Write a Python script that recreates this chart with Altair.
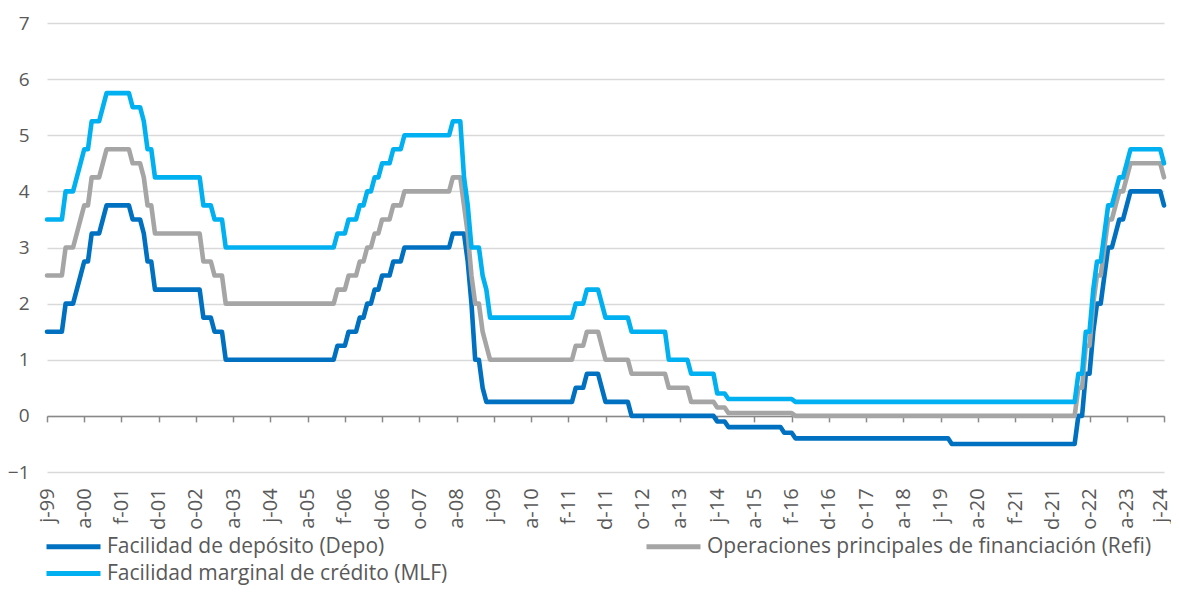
import altair as alt
import numpy as np
import pandas as pd

# Fechas de las decisiones de tipos del BCE (valores a fin de mes)
FECHAS_CAMBIO = [
    "1999-04-09", "1999-11-05", "2000-02-04", "2000-03-17", "2000-04-28", "2000-06-09",
    "2000-09-01", "2000-10-06", "2001-05-11", "2001-08-31", "2001-09-18", "2001-11-09",
    "2002-12-06", "2003-03-07", "2003-06-06", "2005-12-06", "2006-03-08", "2006-06-15",
    "2006-08-09", "2006-10-11", "2006-12-13", "2007-03-14", "2007-06-13", "2008-07-09",
    "2008-10-15", "2008-11-12", "2008-12-10", "2009-01-21", "2009-03-11", "2009-04-08",
    "2009-05-13", "2011-04-13", "2011-07-13", "2011-11-09", "2011-12-14", "2012-07-11",
    "2013-05-08", "2013-11-13", "2014-06-11", "2014-09-10", "2015-12-09", "2016-03-16",
    "2019-09-18", "2022-07-27", "2022-09-14", "2022-11-02", "2022-12-21", "2023-02-08",
    "2023-03-22", "2023-05-10", "2023-06-21", "2023-08-02", "2023-09-20", "2024-06-12",
]
DEPO = [
    1.50, 2.00, 2.25, 2.50, 2.75, 3.25, 3.50, 3.75, 3.50, 3.25, 2.75, 2.25,
    1.75, 1.50, 1.00, 1.25, 1.50, 1.75, 2.00, 2.25, 2.50, 2.75, 3.00, 3.25,
    3.25, 2.75, 2.00, 1.00, 0.50, 0.25, 0.25, 0.50, 0.75, 0.50, 0.25, 0.00,
    0.00, 0.00, -0.10, -0.20, -0.30, -0.40, -0.50, 0.00, 0.75, 1.50, 2.00, 2.50,
    3.00, 3.25, 3.50, 3.75, 4.00, 3.75,
]
REFI = [
    2.50, 3.00, 3.25, 3.50, 3.75, 4.25, 4.50, 4.75, 4.50, 4.25, 3.75, 3.25,
    2.75, 2.50, 2.00, 2.25, 2.50, 2.75, 3.00, 3.25, 3.50, 3.75, 4.00, 4.25,
    3.75, 3.25, 2.50, 2.00, 1.50, 1.25, 1.00, 1.25, 1.50, 1.25, 1.00, 0.75,
    0.50, 0.25, 0.15, 0.05, 0.05, 0.00, 0.00, 0.50, 1.25, 2.00, 2.50, 3.00,
    3.50, 3.75, 4.00, 4.25, 4.50, 4.25,
]
MLF = [
    3.50, 4.00, 4.25, 4.50, 4.75, 5.25, 5.50, 5.75, 5.50, 5.25, 4.75, 4.25,
    3.75, 3.50, 3.00, 3.25, 3.50, 3.75, 4.00, 4.25, 4.50, 4.75, 5.00, 5.25,
    4.25, 3.75, 3.00, 3.00, 2.50, 2.25, 1.75, 2.00, 2.25, 2.00, 1.75, 1.50,
    1.00, 0.75, 0.40, 0.30, 0.30, 0.25, 0.25, 0.75, 1.50, 2.25, 2.75, 3.25,
    3.75, 4.00, 4.25, 4.50, 4.75, 4.50,
]
TICK_LABELS = [
    "j-99", "a-00", "f-01", "d-01", "o-02", "a-03", "j-04", "a-05", "f-06", "d-06",
    "o-07", "a-08", "j-09", "a-10", "f-11", "d-11", "o-12", "a-13", "j-14", "a-15",
    "f-16", "d-16", "o-17", "a-18", "j-19", "a-20", "f-21", "d-21", "o-22", "a-23", "j-24",
]
SERIES = [
    "Facilidad de depósito (Depo)",
    "Operaciones principales de financiación (Refi)",
    "Facilidad marginal de crédito (MLF)",
]
COLORS = ["#0070C0", "#A5A5A5", "#00B0F0"]

# Tabla mensual (fin de mes, junio 1999 - junio 2024)
months = pd.period_range("1999-06", "2024-06", freq="M").to_timestamp(how="end")
changes = pd.to_datetime(FECHAS_CAMBIO)
pos = np.searchsorted(changes.values, months.values, side="right") - 1
rows = []
for name, vals in zip(SERIES, [DEPO, REFI, MLF]):
    for i, p in enumerate(pos):
        rows.append({"mes": i, "fecha": months[i].strftime("%Y-%m"), "serie": name, "tipo": vals[p]})
df = pd.DataFrame(rows)

n_months = len(months) - 1
x_values = list(range(0, n_months + 1, 10))
label_expr = "[" + ",".join("'%s'" % l for l in TICK_LABELS) + "][round(datum.value / 10)]"

W, H = 1117, 449
zero_offset = -(H * 1.0 / 8.0)

chart = alt.Chart(df).mark_line(strokeWidth=4.6, strokeJoin="round", strokeCap="round").encode(
    x=alt.X(
        "mes:Q",
        scale=alt.Scale(domain=[0, n_months], nice=False, zero=False),
        axis=alt.Axis(
            values=x_values, labelExpr=label_expr, title=None, labelAngle=270,
            labelAlign="right", labelBaseline="middle", labelPadding=66,
            labelFontSize=20, labelColor="#595959", labelOverlap=False,
            labelFlush=False, labelBound=False, offset=zero_offset,
            labelOffset={"condition": {"test": "datum.value >= %d" % n_months, "value": -4}, "value": 0},
            domainColor="#898989", domainWidth=1.5, tickColor="#898989",
            tickWidth=1.5, tickSize=6, grid=False,
        ),
    ),
    y=alt.Y(
        "tipo:Q",
        scale=alt.Scale(domain=[-1, 7], nice=False, zero=False),
        axis=alt.Axis(
            values=list(range(-1, 8)), title=None, domain=False, ticks=False,
            labelPadding=18, labelFontSize=19, labelColor="#595959",
            gridColor="#D9D9D9", gridWidth=1.5,
        ),
    ),
    color=alt.Color(
        "serie:N",
        scale=alt.Scale(domain=SERIES, range=COLORS),
        legend=alt.Legend(
            title=None, orient="none", direction="horizontal", legendX=16,
            legendY=513, columns=2, columnPadding=188, rowPadding=5,
            symbolType="M-4,0H4", symbolSize=182.25, symbolStrokeWidth=5,
            labelFontSize=21, labelColor="#595959", labelLimit=1000,
            labelOffset=23, padding=0,
        ),
    ),
).properties(
    width=W,
    height=H,
    padding={"left": 39, "top": 15, "right": 7, "bottom": 115},
    autosize=alt.AutoSizeParams(type="none"),
    background="white",
).configure(font="Open Sans").configure_view(stroke=None)

chart.save("out.html", embed_options={"renderer": "svg", "actions": False})
